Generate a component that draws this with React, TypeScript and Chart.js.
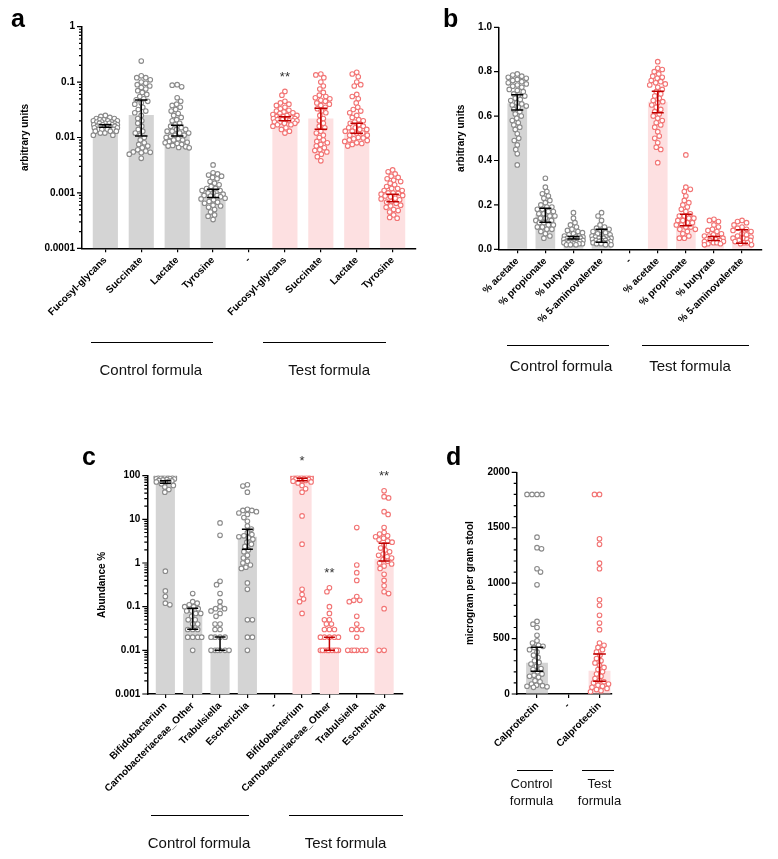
import React, { useEffect, useRef } from 'react';
import { Chart, registerables } from 'chart.js';

Chart.register(...registerables);

const FONT = '"Liberation Sans", Arial, Helvetica, sans-serif';
const GRAY_BAR = '#d4d4d4';
const PINK_BAR = '#fde0e1';
const GRAY_PT = '#8a8a8a';
const RED_PT = '#f27474';
const CTRL_ERR = '#000000';
const TEST_ERR = '#c00000';

// ---------------- Panel a ----------------
const aCategories = ['Fucosyl-glycans', 'Succinate', 'Lactate', 'Tyrosine', '-', 'Fucosyl-glycans', 'Succinate', 'Lactate', 'Tyrosine'];
const aBars = [0.017, 0.0255, 0.0127, 0.00098, null, 0.022, 0.022, 0.0145, 0.00085];
const aErrLow = [0.0153, 0.0106, 0.0106, 0.00083, null, 0.0201, 0.0141, 0.0119, 0.00069];
const aErrHigh = [0.017, 0.0475, 0.0166, 0.00116, null, 0.0237, 0.0337, 0.018, 0.00095];
const aCtrlFucosyl = [0.025, 0.024, 0.023, 0.022, 0.022, 0.021, 0.021, 0.02, 0.02, 0.02, 0.019, 0.019, 0.019, 0.018, 0.018, 0.018, 0.018, 0.017, 0.017, 0.017, 0.017, 0.016, 0.016, 0.016, 0.016, 0.015, 0.015, 0.015, 0.015, 0.014, 0.014, 0.014, 0.014, 0.013, 0.013, 0.013, 0.012, 0.012, 0.011, 0.011];
const aCtrlSuccinate = [0.24, 0.13, 0.12, 0.12, 0.11, 0.1, 0.095, 0.09, 0.085, 0.08, 0.075, 0.07, 0.065, 0.06, 0.055, 0.05, 0.048, 0.045, 0.042, 0.04, 0.035, 0.032, 0.03, 0.028, 0.025, 0.022, 0.02, 0.018, 0.016, 0.014, 0.013, 0.012, 0.011, 0.01, 0.009, 0.008, 0.0075, 0.007, 0.0065, 0.006, 0.0057, 0.0055, 0.0054, 0.0053, 0.005, 0.0042];
const aCtrlLactate = [0.09, 0.088, 0.082, 0.052, 0.045, 0.04, 0.038, 0.035, 0.032, 0.03, 0.027, 0.025, 0.023, 0.021, 0.02, 0.018, 0.017, 0.016, 0.015, 0.014, 0.014, 0.013, 0.013, 0.012, 0.012, 0.011, 0.011, 0.0105, 0.01, 0.0095, 0.009, 0.009, 0.0085, 0.0082, 0.008, 0.0078, 0.0075, 0.0072, 0.007, 0.0068, 0.0066, 0.0065];
const aCtrlTyrosine = [0.0032, 0.0023, 0.0022, 0.0021, 0.002, 0.0019, 0.0018, 0.0016, 0.0015, 0.0014, 0.0013, 0.0012, 0.0012, 0.0011, 0.0011, 0.001, 0.001, 0.00095, 0.0009, 0.0009, 0.00088, 0.00085, 0.0008, 0.00078, 0.00075, 0.0007, 0.00068, 0.00065, 0.0006, 0.00058, 0.00055, 0.0005, 0.00045, 0.0004, 0.00038, 0.00033];
const aTestFucosyl = [0.068, 0.058, 0.045, 0.042, 0.04, 0.038, 0.035, 0.033, 0.031, 0.03, 0.029, 0.028, 0.027, 0.026, 0.025, 0.025, 0.024, 0.024, 0.023, 0.023, 0.022, 0.022, 0.021, 0.021, 0.021, 0.02, 0.02, 0.02, 0.019, 0.019, 0.018, 0.018, 0.017, 0.017, 0.016, 0.015, 0.014, 0.013, 0.012];
const aTestSuccinate = [0.14, 0.135, 0.12, 0.1, 0.085, 0.075, 0.065, 0.058, 0.055, 0.052, 0.05, 0.047, 0.045, 0.042, 0.04, 0.038, 0.035, 0.033, 0.03, 0.028, 0.025, 0.022, 0.02, 0.018, 0.016, 0.015, 0.013, 0.012, 0.011, 0.01, 0.009, 0.0085, 0.008, 0.0075, 0.007, 0.0065, 0.006, 0.0058, 0.0055, 0.005, 0.0045, 0.0038];
const aTestLactate = [0.15, 0.14, 0.125, 0.1, 0.09, 0.085, 0.06, 0.055, 0.05, 0.042, 0.035, 0.032, 0.03, 0.028, 0.025, 0.023, 0.021, 0.02, 0.019, 0.018, 0.017, 0.016, 0.015, 0.015, 0.014, 0.014, 0.013, 0.013, 0.012, 0.012, 0.011, 0.011, 0.01, 0.0098, 0.0095, 0.009, 0.0088, 0.0085, 0.008, 0.0078, 0.0075, 0.007];
const aTestTyrosine = [0.0026, 0.0024, 0.0022, 0.002, 0.0019, 0.0018, 0.0017, 0.0016, 0.0015, 0.0014, 0.0013, 0.0012, 0.0012, 0.0011, 0.0011, 0.001, 0.001, 0.00098, 0.00095, 0.0009, 0.00088, 0.00085, 0.0008, 0.00078, 0.00075, 0.0007, 0.00068, 0.00065, 0.0006, 0.00058, 0.00055, 0.0005, 0.00048, 0.00045, 0.0004, 0.00036, 0.00035];
const aPoints = [aCtrlFucosyl, aCtrlSuccinate, aCtrlLactate, aCtrlTyrosine, [], aTestFucosyl, aTestSuccinate, aTestLactate, aTestTyrosine];
const aMajorTicks = [0.0001, 0.001, 0.01, 0.1, 1];
const aStars = [{ index: 5, text: '**' }];

// ---------------- Panel b ----------------
const bCategories = ['% acetate', '% propionate', '% butyrate', '% 5-aminovalerate', '-', '% acetate', '% propionate', '% butyrate', '% 5-aminovalerate'];
const bBars = [0.658, 0.159, 0.05, 0.055, null, 0.665, 0.13, 0.05, 0.06];
const bErrLow = [0.627, 0.122, 0.046, 0.032, null, 0.615, 0.106, 0.04, 0.027];
const bErrHigh = [0.696, 0.185, 0.058, 0.09, null, 0.712, 0.158, 0.058, 0.088];
const bCtrlAcetate = [0.79, 0.785, 0.78, 0.775, 0.77, 0.765, 0.76, 0.755, 0.75, 0.745, 0.74, 0.735, 0.73, 0.72, 0.715, 0.71, 0.7, 0.695, 0.69, 0.68, 0.675, 0.67, 0.66, 0.655, 0.65, 0.645, 0.64, 0.63, 0.62, 0.61, 0.6, 0.59, 0.58, 0.57, 0.56, 0.55, 0.54, 0.52, 0.5, 0.49, 0.47, 0.45, 0.43, 0.38];
const bCtrlPropionate = [0.32, 0.28, 0.26, 0.25, 0.24, 0.23, 0.22, 0.21, 0.2, 0.19, 0.19, 0.18, 0.18, 0.17, 0.17, 0.16, 0.16, 0.15, 0.15, 0.14, 0.14, 0.13, 0.13, 0.12, 0.12, 0.11, 0.11, 0.1, 0.1, 0.09, 0.09, 0.08, 0.07, 0.06, 0.05];
const bCtrlButyrate = [0.165, 0.14, 0.12, 0.11, 0.1, 0.09, 0.085, 0.08, 0.075, 0.07, 0.065, 0.06, 0.06, 0.055, 0.055, 0.05, 0.05, 0.05, 0.045, 0.045, 0.04, 0.04, 0.04, 0.035, 0.035, 0.03, 0.03, 0.03, 0.03, 0.025, 0.025, 0.025, 0.02, 0.02, 0.02];
const bCtrlAminovalerate = [0.165, 0.15, 0.13, 0.11, 0.1, 0.095, 0.09, 0.085, 0.08, 0.075, 0.07, 0.065, 0.06, 0.06, 0.055, 0.055, 0.05, 0.05, 0.05, 0.045, 0.045, 0.04, 0.04, 0.04, 0.035, 0.035, 0.03, 0.03, 0.03, 0.025, 0.025, 0.02, 0.02];
const bTestAcetate = [0.845, 0.815, 0.81, 0.8, 0.79, 0.78, 0.775, 0.77, 0.76, 0.755, 0.75, 0.745, 0.74, 0.73, 0.72, 0.71, 0.7, 0.69, 0.68, 0.67, 0.665, 0.66, 0.65, 0.64, 0.63, 0.62, 0.61, 0.6, 0.59, 0.58, 0.57, 0.56, 0.55, 0.53, 0.51, 0.5, 0.48, 0.46, 0.45, 0.39];
const bTestPropionate = [0.425, 0.28, 0.27, 0.26, 0.24, 0.22, 0.21, 0.2, 0.19, 0.18, 0.17, 0.16, 0.15, 0.15, 0.14, 0.14, 0.13, 0.13, 0.12, 0.12, 0.11, 0.11, 0.1, 0.1, 0.09, 0.09, 0.08, 0.07, 0.06, 0.05, 0.05];
const bTestButyrate = [0.135, 0.13, 0.125, 0.11, 0.1, 0.09, 0.085, 0.08, 0.07, 0.065, 0.06, 0.06, 0.055, 0.05, 0.05, 0.045, 0.045, 0.04, 0.04, 0.035, 0.035, 0.03, 0.03, 0.025, 0.025, 0.02];
const bTestAminovalerate = [0.13, 0.125, 0.12, 0.11, 0.1, 0.095, 0.09, 0.085, 0.08, 0.07, 0.065, 0.06, 0.055, 0.05, 0.05, 0.045, 0.04, 0.04, 0.035, 0.03, 0.03, 0.025, 0.02];
const bPoints = [bCtrlAcetate, bCtrlPropionate, bCtrlButyrate, bCtrlAminovalerate, [], bTestAcetate, bTestPropionate, bTestButyrate, bTestAminovalerate];
const bMajorTicks = [0, 0.2, 0.4, 0.6, 0.8, 1.0];

// ---------------- Panel c ----------------
const cCategories = ['Bifidobacterium', 'Carnobacteriaceae_Other', 'Trabulsiella', 'Escherichia', '-', 'Bifidobacterium', 'Carnobacteriaceae_Other', 'Trabulsiella', 'Escherichia'];
const cBars = [88, 0.07, 0.01, 4.0, null, 82, 0.01, null, 1.25];
const cErrLow = [67, 0.0304, 0.01, 2.06, null, 76.9, 0.01, null, 1.11];
const cErrHigh = [76.9, 0.0925, 0.0203, 5.9, null, 87, 0.02, null, 2.83];
const cCtrlBifido = [98, 96, 95, 94, 93, 92, 91, 90, 89, 88, 87, 86, 85, 84, 82, 80, 78, 76, 74, 72, 70, 65, 60, 55, 48, 42, 0.65, 0.23, 0.17, 0.12, 0.11];
const cCtrlCarno = [0.2, 0.13, 0.12, 0.11, 0.1, 0.1, 0.09, 0.08, 0.08, 0.07, 0.07, 0.06, 0.05, 0.05, 0.04, 0.04, 0.03, 0.03, 0.03, 0.02, 0.02, 0.02, 0.02, 0.01];
const cCtrlTrab = [8.3, 4.3, 0.38, 0.32, 0.2, 0.13, 0.1, 0.09, 0.09, 0.08, 0.07, 0.06, 0.04, 0.04, 0.03, 0.03, 0.02, 0.02, 0.02, 0.02, 0.01, 0.01, 0.01, 0.01, 0.01, 0.01];
const cCtrlEsch = [62, 58, 42, 17, 16, 16, 15, 14, 13, 11, 9, 7, 6, 5, 4.5, 4.2, 4, 3.8, 3.5, 3, 2.7, 2.4, 2, 1.8, 1.5, 1.3, 1.1, 1, 0.9, 0.8, 0.75, 0.35, 0.25, 0.05, 0.05, 0.02, 0.02, 0.01];
const cTestBifido = [99, 98, 97, 96, 95, 94, 93, 92, 91, 90, 89, 88, 87, 86, 85, 84, 83, 82, 80, 78, 75, 72, 68, 60, 50, 42, 12, 2.7, 0.25, 0.19, 0.15, 0.13, 0.07];
const cTestCarno = [0.27, 0.22, 0.1, 0.07, 0.05, 0.05, 0.04, 0.04, 0.03, 0.03, 0.03, 0.02, 0.02, 0.02, 0.02, 0.02, 0.01, 0.01, 0.01, 0.01, 0.01, 0.01, 0.01, 0.01, 0.01, 0.01];
const cTestTrab = [6.5, 0.9, 0.6, 0.4, 0.17, 0.14, 0.14, 0.13, 0.06, 0.04, 0.03, 0.03, 0.03, 0.02, 0.01, 0.01, 0.01, 0.01, 0.01, 0.01];
const cTestEsch = [45, 33, 31, 15, 13, 6.5, 5, 4.6, 4.2, 4, 3.7, 3.4, 3.2, 3, 2.6, 2.2, 2, 1.8, 1.6, 1.5, 1.4, 1.3, 1.2, 1.1, 1, 0.95, 0.85, 0.75, 0.55, 0.4, 0.3, 0.22, 0.2, 0.09, 0.01, 0.01];
const cPoints = [cCtrlBifido, cCtrlCarno, cCtrlTrab, cCtrlEsch, [], cTestBifido, cTestCarno, cTestTrab, cTestEsch];
const cMajorTicks = [0.001, 0.01, 0.1, 1, 10, 100];
const cStars = [{ index: 5, text: '*' }, { index: 6, text: '**' }, { index: 8, text: '**' }];

// ---------------- Panel d ----------------
const dCategories = ['Calprotectin', '-', 'Calprotectin'];
const dBars = [282, null, 210];
const dErrLow = [205, null, 115];
const dErrHigh = [421, null, 361];
const dCtrlCalprotectin = [1800, 1800, 1800, 1800, 1415, 1320, 1310, 1130, 1100, 985, 655, 630, 600, 530, 480, 460, 440, 430, 420, 400, 380, 350, 330, 300, 285, 270, 250, 230, 220, 200, 180, 170, 160, 150, 120, 110, 90, 80, 75, 70, 65, 60];
const dTestCalprotectin = [1800, 1800, 1400, 1350, 1180, 1130, 850, 800, 710, 640, 580, 460, 440, 420, 400, 380, 350, 320, 300, 280, 260, 240, 220, 200, 180, 160, 140, 120, 110, 100, 90, 80, 70, 60, 50, 40, 30, 20];
const dPoints = [dCtrlCalprotectin, [], dTestCalprotectin];
const dMajorTicks = [0, 500, 1000, 1500, 2000];

const groupNames = ['Control formula', 'Test formula'];

function logTicks(majors: number[]) {
  const out: number[] = [];
  for (let i = 0; i < majors.length; i++) {
    out.push(majors[i]);
    if (i < majors.length - 1) for (let k = 2; k <= 9; k++) out.push(majors[i] * k);
  }
  return out;
}
function linTicks(majors: number[], per: number) {
  const out: number[] = [];
  for (let i = 0; i < majors.length; i++) {
    out.push(majors[i]);
    if (i < majors.length - 1) {
      const step = (majors[i + 1] - majors[i]) / per;
      for (let k = 1; k < per; k++) out.push(majors[i] + step * k);
    }
  }
  return out;
}

function swarm(items: any[], D: number, maxHalf: number, cx: number) {
  items.sort((a, b) => a.y - b.y);
  const placed: { x: number; y: number }[] = [];
  const step = 0.5;
  const n = Math.floor(maxHalf / step);
  let toggle = 1;
  for (const it of items) {
    let best = 0;
    let bestScore = -Infinity;
    for (let k = 0; k <= n * 2; k++) {
      const off = k === 0 ? 0 : (k % 2 === 1 ? toggle : -toggle) * Math.ceil(k / 2) * step;
      let minD = Infinity;
      for (const p of placed) {
        const dy = p.y - it.y;
        if (Math.abs(dy) >= D) continue;
        const dx = p.x - (cx + off);
        const d = Math.sqrt(dx * dx + dy * dy);
        if (d < minD) minD = d;
      }
      if (minD >= D) { best = off; break; }
      if (minD > bestScore) { bestScore = minD; best = off; }
    }
    toggle = -toggle;
    placed.push({ x: cx + best, y: it.y });
    it.el.x = cx + best;
  }
}

type Spec = {
  key: string;
  left: number; top: number; width: number; height: number;
  plot: { left: number; right: number; top: number; bottom: number };
  categories: string[];
  bars: (number | null)[];
  errLow: (number | null)[];
  errHigh: (number | null)[];
  points: number[][];
  testStart: number;
  yType: string;
  yMin: number; yMax: number;
  yTicks: number[];
  yMajor: number[];
  yLabel: (v: number) => string;
  yTitle: string;
  titleCenterX: number;
  xMin: number; xMax: number;
  capW: number;
  stars: { index: number; text: string }[];
};

function buildConfig(s: Spec): any {
  const barData = s.bars.map((v, i) => ({ x: i, y: v })).filter((d) => d.y != null);
  const ctrlPts: any[] = [];
  const testPts: any[] = [];
  s.points.forEach((arr, i) => arr.forEach((v) => (i < s.testStart ? ctrlPts : testPts).push({ x: i, y: v })));

  const plugin = {
    id: 'panelExtras' + s.key,
    afterDatasetsUpdate(chart: any) {
      const xs = chart.scales.x;
      const spacing = xs.getPixelForValue(1) - xs.getPixelForValue(0);
      const maxHalf = spacing * 0.34;
      [1, 2].forEach((di) => {
        const meta = chart.getDatasetMeta(di);
        const data = chart.data.datasets[di].data;
        const groups = new Map<number, any[]>();
        meta.data.forEach((el: any, j: number) => {
          const xi = data[j].x;
          if (!groups.has(xi)) groups.set(xi, []);
          groups.get(xi)!.push({ el, y: el.y });
        });
        groups.forEach((items, xi) => swarm(items, 4.6, maxHalf, xs.getPixelForValue(xi)));
      });
    },
    afterDatasetsDraw(chart: any) {
      const ctx = chart.ctx;
      const xs = chart.scales.x;
      const ys = chart.scales.y;
      ctx.save();
      s.errLow.forEach((lo, i) => {
        const hi = s.errHigh[i];
        if (lo == null || hi == null) return;
        const x = xs.getPixelForValue(i);
        const y1 = ys.getPixelForValue(lo);
        const y2 = ys.getPixelForValue(hi);
        ctx.strokeStyle = i < s.testStart ? CTRL_ERR : TEST_ERR;
        ctx.lineWidth = 1.5;
        ctx.beginPath();
        ctx.moveTo(x, y1); ctx.lineTo(x, y2);
        ctx.moveTo(x - s.capW / 2, y1); ctx.lineTo(x + s.capW / 2, y1);
        ctx.moveTo(x - s.capW / 2, y2); ctx.lineTo(x + s.capW / 2, y2);
        ctx.stroke();
      });
      ctx.fillStyle = '#333';
      ctx.font = '13px ' + FONT;
      ctx.textAlign = 'center';
      ctx.textBaseline = 'middle';
      s.stars.forEach((st) => {
        const top = Math.max(...s.points[st.index]);
        ctx.fillText(st.text, xs.getPixelForValue(st.index), ys.getPixelForValue(top) - 14);
      });
      ctx.restore();
    },
    afterDraw(chart: any) {
      const ctx = chart.ctx;
      const ys = chart.scales.y;
      const left = chart.chartArea.left;
      ctx.save();
      ctx.strokeStyle = '#000';
      ctx.lineWidth = 1.2;
      ctx.beginPath();
      s.yTicks.forEach((v) => {
        const y = ys.getPixelForValue(v);
        const major = s.yMajor.some((m) => Math.abs(m - v) < m * 1e-9 + 1e-12);
        const len = major ? 5 : 3;
        ctx.moveTo(left - len, y);
        ctx.lineTo(left, y);
      });
      ctx.stroke();
      ctx.restore();
    },
  };

  const tickFont = { family: FONT, size: 10, weight: 'bold' as const };

  return {
    type: 'bar',
    data: {
      datasets: [
        {
          type: 'bar',
          data: barData,
          backgroundColor: barData.map((d) => (d.x < s.testStart ? GRAY_BAR : PINK_BAR)),
          borderWidth: 0,
          categoryPercentage: 1,
          barPercentage: 0.7,
          order: 3,
        },
        {
          type: 'scatter',
          data: ctrlPts,
          pointRadius: 2.3,
          pointBorderWidth: 1.1,
          pointBackgroundColor: '#ffffff',
          pointBorderColor: GRAY_PT,
          order: 2,
        },
        {
          type: 'scatter',
          data: testPts,
          pointRadius: 2.3,
          pointBorderWidth: 1.1,
          pointBackgroundColor: '#ffffff',
          pointBorderColor: RED_PT,
          order: 1,
        },
      ],
    },
    options: {
      responsive: false,
      animation: false,
      events: [],
      devicePixelRatio: 1,
      layout: {
        padding: { left: 0, top: s.plot.top, right: s.width - s.plot.right, bottom: 0 },
      },
      plugins: { legend: { display: false }, tooltip: { enabled: false } },
      scales: {
        x: {
          type: 'linear',
          min: s.xMin,
          max: s.xMax,
          offset: false,
          afterBuildTicks: (sc: any) => { sc.ticks = s.categories.map((_, i) => ({ value: i })); },
          afterFit: (sc: any) => { sc.height = s.height - s.plot.bottom; },
          ticks: {
            autoSkip: false,
            minRotation: 45,
            maxRotation: 45,
            padding: 2,
            color: '#000',
            font: tickFont,
            callback: (v: number) => s.categories[Math.round(v)] ?? '',
          },
          grid: { display: true, drawOnChartArea: false, drawTicks: true, tickLength: 4, color: '#000', lineWidth: 1.2, offset: false },
          border: { display: true, color: '#000', width: 1.5 },
        },
        y: {
          type: s.yType,
          min: s.yMin,
          max: s.yMax,
          afterBuildTicks: (sc: any) => { sc.ticks = s.yTicks.map((v) => ({ value: v })); },
          afterFit: (sc: any) => { sc.width = s.plot.left; },
          ticks: {
            autoSkip: false,
            padding: 7,
            color: '#000',
            font: tickFont,
            callback: (v: number) => s.yLabel(v),
          },
          grid: { display: true, drawOnChartArea: false, drawTicks: false },
          border: { display: true, color: '#000', width: 1.5 },
          title: {
            display: true,
            text: s.yTitle,
            color: '#000',
            font: { family: FONT, size: 10, weight: 'bold' },
            padding: { top: s.titleCenterX - 6, bottom: 0 },
          },
        },
      },
    },
    plugins: [plugin],
  };
}

function isMajor(majors: number[], v: number) {
  return majors.some((m) => Math.abs(m - v) <= Math.abs(m) * 1e-9 + 1e-12);
}

const specs: Spec[] = [
  {
    key: 'a', left: 0, top: 0, width: 430, height: 400,
    plot: { left: 82, right: 416, top: 26.7, bottom: 248.3 },
    categories: aCategories, bars: aBars, errLow: aErrLow, errHigh: aErrHigh, points: aPoints, testStart: 5,
    yType: 'logarithmic', yMin: 0.0001, yMax: 1, yTicks: logTicks(aMajorTicks), yMajor: aMajorTicks,
    yLabel: (v) => (isMajor(aMajorTicks, v) ? String(aMajorTicks.find((m) => isMajor([m], v))) : ''),
    yTitle: 'arbitrary units', titleCenterX: 25, xMin: -0.65, xMax: 8.65, capW: 12.5, stars: aStars,
  },
  {
    key: 'b', left: 430, top: 0, width: 348, height: 400,
    plot: { left: 69, right: 331.7, top: 27.3, bottom: 249.3 },
    categories: bCategories, bars: bBars, errLow: bErrLow, errHigh: bErrHigh, points: bPoints, testStart: 5,
    yType: 'linear', yMin: 0, yMax: 1, yTicks: bMajorTicks, yMajor: bMajorTicks,
    yLabel: (v) => v.toFixed(1),
    yTitle: 'arbitrary units', titleCenterX: 31.7, xMin: -0.65, xMax: 8.7, capW: 12, stars: [],
  },
  {
    key: 'c', left: 0, top: 440, width: 420, height: 419,
    plot: { left: 147.3, right: 402.7, top: 35.7, bottom: 254 },
    categories: cCategories, bars: cBars, errLow: cErrLow, errHigh: cErrHigh, points: cPoints, testStart: 5,
    yType: 'logarithmic', yMin: 0.001, yMax: 100, yTicks: logTicks(cMajorTicks), yMajor: cMajorTicks,
    yLabel: (v) => (isMajor(cMajorTicks, v) ? String(cMajorTicks.find((m) => isMajor([m], v))) : ''),
    yTitle: 'Abundance %', titleCenterX: 102, xMin: -0.66, xMax: 8.68, capW: 11, stars: cStars,
  },
  {
    key: 'd', left: 420, top: 440, width: 200, height: 419,
    plot: { left: 96.7, right: 192, top: 32.3, bottom: 254 },
    categories: dCategories, bars: dBars, errLow: dErrLow, errHigh: dErrHigh, points: dPoints, testStart: 2,
    yType: 'linear', yMin: 0, yMax: 2000, yTicks: linTicks(dMajorTicks, 5), yMajor: dMajorTicks,
    yLabel: (v) => (isMajor(dMajorTicks, v) ? String(Math.round(v)) : ''),
    yTitle: 'microgram per gram stool', titleCenterX: 50, xMin: -0.65, xMax: 2.4, capW: 12.7, stars: [],
  },
];

function PanelChart({ spec }: { spec: Spec }) {
  const ref = useRef<HTMLCanvasElement>(null);
  useEffect(() => {
    const canvas = ref.current;
    if (!canvas) return;
    const chart = new Chart(canvas, buildConfig(spec));
    return () => chart.destroy();
  }, [spec]);
  return (
    <canvas
      ref={ref}
      width={spec.width}
      height={spec.height}
      style={{ position: 'absolute', left: spec.left, top: spec.top, width: spec.width, height: spec.height }}
    />
  );
}

function Line({ x1, x2, y }: { x1: number; x2: number; y: number }) {
  return <div style={{ position: 'absolute', left: x1, top: y - 0.5, width: x2 - x1, height: 1, background: '#000' }} />;
}

function Label({ cx, top, text, size, lh }: { cx: number; top: number; text: string; size: number; lh: number }) {
  return (
    <div style={{ position: 'absolute', left: cx - 100, top, width: 200, textAlign: 'center', fontSize: size, lineHeight: lh + 'px', color: '#111', whiteSpace: 'pre' }}>
      {text}
    </div>
  );
}

function Letter({ x, y, text }: { x: number; y: number; text: string }) {
  return <div style={{ position: 'absolute', left: x, top: y, fontSize: 25, fontWeight: 'bold', lineHeight: '25px', color: '#000' }}>{text}</div>;
}

export default function App() {
  return (
    <div style={{ position: 'absolute', left: 0, top: 0, width: 778, height: 859, background: '#fff', fontFamily: FONT, overflow: 'hidden' }}>
      {specs.map((s) => <PanelChart key={s.key} spec={s} />)}
      <Letter x={11} y={6} text="a" />
      <Letter x={443} y={6} text="b" />
      <Letter x={82} y={444} text="c" />
      <Letter x={446} y={444} text="d" />

      <Line x1={91} x2={213.3} y={342.3} />
      <Line x1={263.3} x2={385.7} y={342.3} />
      <Label cx={150.8} top={361} text={groupNames[0]} size={15} lh={17} />
      <Label cx={329.2} top={361} text={groupNames[1]} size={15} lh={17} />

      <Line x1={507.3} x2={609.3} y={345.3} />
      <Line x1={642.3} x2={749.3} y={345.3} />
      <Label cx={561} top={357.4} text={groupNames[0]} size={15} lh={17} />
      <Label cx={690} top={357.4} text={groupNames[1]} size={15} lh={17} />

      <Line x1={151} x2={249} y={815} />
      <Line x1={289.3} x2={403.3} y={815} />
      <Label cx={199} top={834} text={groupNames[0]} size={15} lh={17} />
      <Label cx={345.5} top={834} text={groupNames[1]} size={15} lh={17} />

      <Line x1={517.3} x2={553.3} y={770} />
      <Line x1={582} x2={614} y={770} />
      <Label cx={531.5} top={776} text={groupNames[0].replace(' ', '\n')} size={13} lh={16.7} />
      <Label cx={599.5} top={776} text={groupNames[1].replace(' ', '\n')} size={13} lh={16.7} />
    </div>
  );
}
